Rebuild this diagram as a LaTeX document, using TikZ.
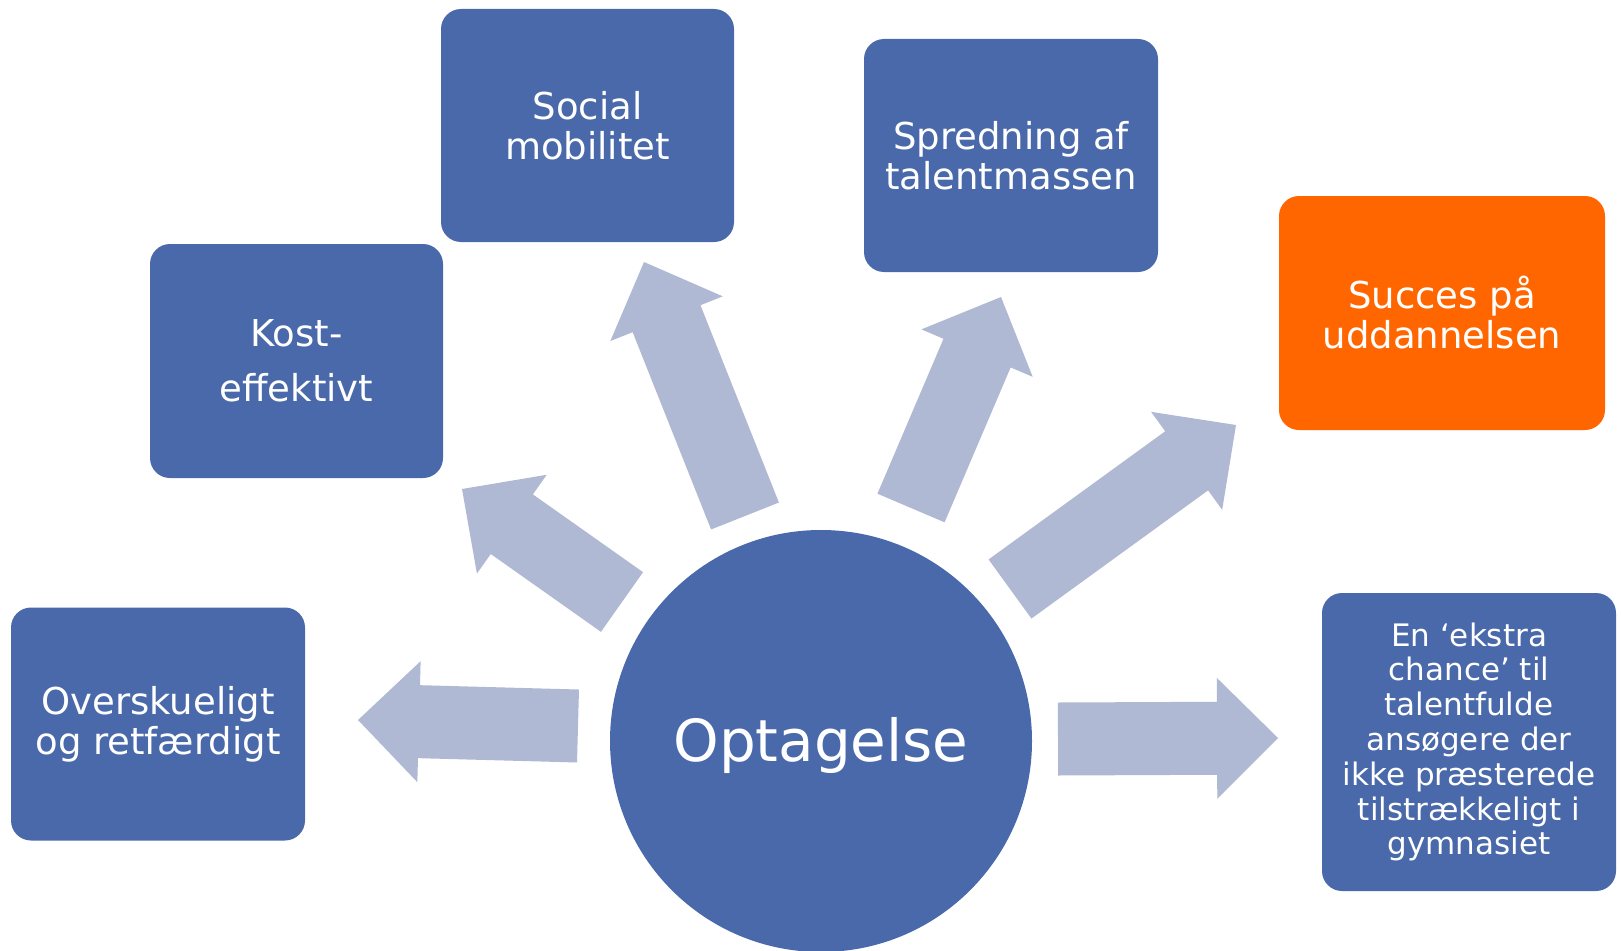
\documentclass[tikz,border=0pt]{standalone}
\usepackage{fontspec}
\setmainfont{DejaVu Sans}
\usetikzlibrary{calc}
\definecolor{boxblue}{HTML}{4A69AA}
\definecolor{arrowfill}{HTML}{B0B9D3}
\definecolor{boxorange}{HTML}{FF6600}
\tikzset{
  tile/.style={fill=boxblue, rounded corners=20pt, inner sep=0pt, align=center,
    text=white, font=\fontsize{37}{40}\selectfont},
  hub/.style={circle, fill=boxblue, inner sep=0pt, minimum size=422pt},
  hubtext/.style={text=white, inner sep=0pt, font=\fontsize{58}{60}\selectfont},
}
\newcommand\fatarrow[2]{%
  \path ($(#2)!61pt!(#1)$) coordinate (hb);
  \fill[arrowfill]
    ($(#1)!36.5pt!90:(#2)$) --
    ($(hb)!36.5pt!90:(#2)$) --
    ($(hb)!60.5pt!90:(#2)$) --
    (#2) --
    ($(hb)!60.5pt!-90:(#2)$) --
    ($(hb)!36.5pt!-90:(#2)$) --
    ($(#1)!36.5pt!-90:(#2)$) -- cycle;
}
\begin{document}
\begin{tikzpicture}[x=1pt,y=-1pt]
\useasboundingbox (0,0) rectangle (1621,950);
\clip (0,0) rectangle (1621,950);

\node[tile, minimum width=293pt, minimum height=233pt] (social) at (587.5,125.5) {Social\\mobilitet};
\node[tile, minimum width=294pt, minimum height=233pt] (spred) at (1011,155.5) {Spredning af\\talentmassen};
\node[tile, fill=boxorange, minimum width=326pt, minimum height=234pt] (succes) at (1442,313) {Succes på\\uddannelsen};
\node[tile, minimum width=293pt, minimum height=234pt] (kost) at (296.5,361) {Kost-\\[15pt]effektivt};
\node[tile, minimum width=294pt, minimum height=233pt] (over) at (158,724) {Overskueligt\\og retfærdigt};
\node[tile, minimum width=294pt, minimum height=298pt, font=\fontsize{31}{34.8}\selectfont] (ekstra) at (1469,742)
  {En ‘ekstra\\chance’ til\\talentfulde\\ansøgere der\\ikke præsterede\\tilstrækkeligt i\\gymnasiet};

\coordinate (a1t) at (578,726);  \coordinate (a1h) at (358,720);
\coordinate (a2t) at (622,602);  \coordinate (a2h) at (462,489);
\coordinate (a3t) at (745,516);  \coordinate (a3h) at (644,262);
\coordinate (a4t) at (911,508);  \coordinate (a4h) at (1001,297);
\coordinate (a5t) at (1010,589); \coordinate (a5h) at (1236,425);
\coordinate (a6t) at (1058,739); \coordinate (a6h) at (1278,738);

\fatarrow{a1t}{a1h}
\fatarrow{a2t}{a2h}
\fatarrow{a3t}{a3h}
\fatarrow{a4t}{a4h}
\fatarrow{a5t}{a5h}
\fatarrow{a6t}{a6h}

\node[hub] (opt) at (821,741) {};
\node[hubtext] (optlabel) at (821,745) {Optagelse};
\end{tikzpicture}
\end{document}
